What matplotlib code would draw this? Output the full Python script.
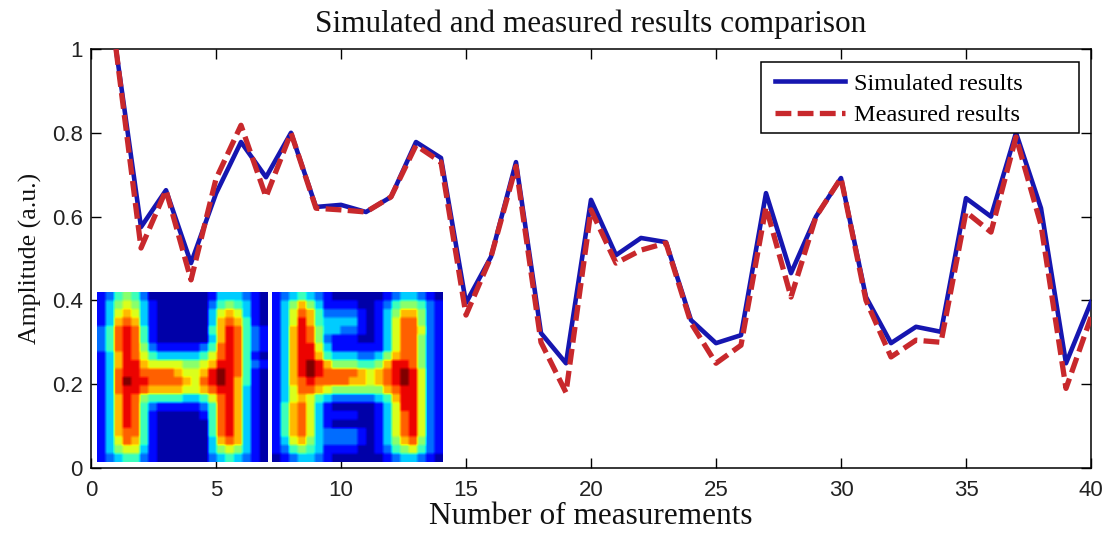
import matplotlib
matplotlib.use("Agg")
import matplotlib.pyplot as plt
import numpy as np
from matplotlib.patches import Rectangle

# Measurement index and amplitudes
measurement_index = list(range(1, 41))
simulated = [1.00, 0.575, 0.663, 0.489, 0.655, 0.778, 0.694, 0.800, 0.623, 0.628,
             0.611, 0.647, 0.778, 0.740, 0.394, 0.504, 0.730, 0.322, 0.250, 0.640,
             0.508, 0.549, 0.539, 0.353, 0.298, 0.317, 0.656, 0.465, 0.600, 0.692,
             0.408, 0.298, 0.337, 0.325, 0.644, 0.600, 0.800, 0.620, 0.250, 0.396]
measured = [1.00, 0.525, 0.663, 0.449, 0.690, 0.818, 0.647, 0.800, 0.620, 0.616,
            0.611, 0.647, 0.770, 0.730, 0.365, 0.504, 0.720, 0.300, 0.180, 0.616,
            0.489, 0.520, 0.537, 0.346, 0.250, 0.293, 0.623, 0.408, 0.600, 0.692,
            0.400, 0.265, 0.305, 0.300, 0.611, 0.563, 0.790, 0.580, 0.190, 0.360]

x_ticks = [0, 5, 10, 15, 20, 25, 30, 35, 40]
y_ticks = [0, 0.2, 0.4, 0.6, 0.8, 1.0]
y_tick_labels = ["0", "0.2", "0.4", "0.6", "0.8", "1"]

# Reconstructed intensity maps (levels 0..10)
image_simulated = [
    [1, 2, 4, 5, 4, 2, 0, 0, 0, 0, 0, 0, 0, 1, 3, 3, 3, 2, 1, 0],
    [1, 3, 5, 6, 5, 3, 1, 0, 0, 0, 0, 0, 0, 2, 4, 5, 4, 3, 1, 0],
    [1, 3, 6, 7, 6, 3, 1, 0, 0, 0, 0, 0, 0, 3, 6, 7, 6, 3, 1, 0],
    [1, 3, 7, 8, 7, 3, 1, 0, 0, 0, 0, 0, 0, 3, 7, 8, 7, 4, 1, 0],
    [2, 4, 8, 9, 8, 4, 1, 0, 0, 0, 0, 0, 0, 4, 7, 9, 8, 4, 2, 1],
    [2, 4, 8, 9, 8, 4, 1, 0, 0, 0, 0, 0, 0, 3, 7, 9, 8, 4, 2, 1],
    [2, 4, 8, 9, 8, 5, 2, 1, 1, 1, 1, 1, 2, 4, 8, 9, 8, 4, 2, 1],
    [1, 3, 7, 9, 8, 6, 4, 3, 3, 3, 3, 3, 4, 6, 8, 9, 8, 4, 1, 0],
    [1, 3, 7, 9, 9, 7, 6, 6, 6, 6, 5, 5, 6, 7, 9, 9, 8, 4, 2, 1],
    [1, 3, 8, 9, 9, 8, 8, 8, 8, 7, 6, 6, 7, 9, 10, 9, 8, 4, 1, 0],
    [1, 3, 8, 10, 9, 9, 8, 8, 8, 8, 7, 6, 8, 9, 10, 9, 7, 4, 1, 0],
    [1, 3, 8, 9, 9, 8, 7, 7, 7, 7, 6, 6, 7, 8, 9, 9, 7, 3, 1, 0],
    [1, 3, 7, 9, 8, 5, 4, 4, 4, 4, 3, 3, 4, 6, 8, 9, 7, 3, 1, 0],
    [1, 3, 7, 9, 8, 4, 2, 1, 1, 1, 1, 1, 2, 4, 8, 9, 7, 3, 1, 0],
    [1, 3, 7, 9, 8, 4, 1, 0, 0, 0, 0, 0, 1, 4, 8, 9, 7, 3, 1, 0],
    [1, 3, 7, 9, 8, 4, 1, 0, 0, 0, 0, 0, 0, 4, 8, 9, 7, 3, 1, 0],
    [1, 3, 7, 8, 8, 4, 1, 0, 0, 0, 0, 0, 0, 4, 8, 9, 7, 3, 1, 0],
    [1, 3, 6, 8, 7, 4, 1, 0, 0, 0, 0, 0, 0, 3, 7, 8, 7, 3, 1, 0],
    [1, 3, 5, 6, 6, 3, 1, 0, 0, 0, 0, 0, 0, 3, 5, 6, 5, 3, 1, 0],
    [1, 2, 3, 4, 4, 2, 1, 0, 0, 0, 0, 0, 0, 2, 3, 4, 3, 2, 1, 0],
]
image_measured = [
    [1, 2, 3, 4, 3, 2, 1, 0, 0, 0, 0, 0, 0, 1, 2, 3, 3, 2, 1, 0],
    [1, 3, 5, 7, 5, 3, 1, 1, 1, 1, 0, 0, 1, 2, 4, 5, 5, 4, 2, 1],
    [1, 3, 6, 8, 7, 4, 2, 2, 2, 2, 1, 0, 1, 3, 5, 7, 7, 5, 2, 1],
    [1, 3, 6, 9, 7, 4, 3, 3, 3, 3, 1, 0, 1, 3, 6, 8, 8, 5, 2, 1],
    [1, 3, 7, 9, 8, 5, 3, 3, 2, 2, 1, 0, 1, 3, 6, 8, 8, 6, 2, 1],
    [1, 3, 7, 9, 8, 5, 2, 1, 1, 1, 0, 0, 1, 3, 6, 8, 8, 5, 2, 1],
    [1, 3, 7, 9, 9, 6, 3, 1, 1, 1, 1, 1, 1, 3, 6, 8, 8, 5, 2, 1],
    [1, 3, 7, 9, 9, 7, 4, 3, 3, 3, 2, 2, 3, 5, 7, 8, 8, 5, 2, 1],
    [1, 3, 7, 9, 10, 9, 7, 5, 5, 5, 4, 4, 5, 7, 9, 9, 8, 5, 2, 1],
    [1, 3, 7, 9, 10, 9, 8, 8, 8, 8, 7, 6, 7, 8, 9, 10, 9, 6, 2, 1],
    [1, 3, 7, 8, 9, 8, 8, 8, 8, 7, 7, 6, 7, 8, 9, 10, 9, 6, 2, 1],
    [1, 3, 6, 8, 8, 7, 6, 5, 5, 5, 5, 5, 5, 7, 8, 9, 9, 6, 2, 1],
    [1, 3, 6, 7, 6, 4, 3, 2, 2, 2, 2, 2, 3, 4, 7, 9, 9, 6, 2, 1],
    [1, 4, 7, 8, 6, 3, 1, 0, 0, 0, 0, 0, 1, 3, 6, 9, 9, 6, 2, 1],
    [1, 4, 7, 8, 6, 3, 1, 1, 1, 1, 0, 0, 1, 3, 6, 8, 9, 6, 2, 1],
    [1, 4, 7, 8, 6, 3, 1, 0, 0, 0, 0, 0, 1, 3, 6, 8, 9, 6, 2, 1],
    [1, 4, 7, 8, 6, 3, 2, 2, 2, 2, 1, 0, 1, 3, 6, 8, 9, 6, 2, 1],
    [1, 3, 6, 7, 5, 3, 2, 2, 2, 2, 1, 0, 1, 3, 5, 7, 8, 5, 2, 1],
    [1, 2, 4, 5, 4, 3, 1, 1, 1, 1, 0, 0, 1, 2, 4, 5, 6, 4, 2, 1],
    [0, 1, 2, 3, 3, 2, 1, 0, 0, 0, 0, 0, 0, 1, 2, 3, 3, 2, 1, 0],
]


def soften(levels, block=8, width=3):
    """Blow each cell up to a block of pixels and box-blur the edges slightly."""
    arr = np.kron(np.asarray(levels, dtype=float), np.ones((block, block)))
    kernel = np.ones(width) / width
    pad = width // 2
    arr = np.pad(arr, pad, mode="edge")
    arr = np.apply_along_axis(lambda r: np.convolve(r, kernel, mode="valid"), 1, arr)
    arr = np.apply_along_axis(lambda c: np.convolve(c, kernel, mode="valid"), 0, arr)
    return arr


serif = ["Liberation Serif", "DejaVu Serif"]
sans = ["Liberation Sans", "DejaVu Sans"]

W, H = 1106, 541
fig = plt.figure(figsize=(W / 100, H / 100), dpi=100)
ax = fig.add_axes([91 / W, (H - 468) / H, 1000 / W, 419 / H])

ax.plot(measurement_index, simulated, color="#1616b0", linewidth=3.3,
        label="Simulated results", zorder=3)
ax.plot(measurement_index, measured, color="#c8282c", linewidth=3.8,
        linestyle=(0, (3.0, 1.2)), label="Measured results", zorder=4)

ax.set_xlim(0, 40)
ax.set_ylim(0, 1)
ax.set_xticks(x_ticks)
ax.set_yticks(y_ticks)
ax.set_yticklabels(y_tick_labels)
ax.tick_params(direction="in", length=7, width=1, top=True, right=True,
               labelsize=16)
ax.tick_params(axis="x", pad=9)
ax.tick_params(axis="y", pad=6)
for lbl in ax.get_xticklabels() + ax.get_yticklabels():
    lbl.set_family(sans)
    lbl.set_color("#222222")
for sp in ax.spines.values():
    sp.set_linewidth(1.1)

ax.set_title("Simulated and measured results comparison", family=serif,
             fontsize=22.5, pad=12, color="#111111")
ax.set_xlabel("Number of measurements", family=serif, fontsize=22.5,
              labelpad=0, color="#111111")
ax.set_ylabel("Amplitude (a.u.)", family=serif, fontsize=18.5,
              labelpad=7, color="#111111")

# Legend entries without their own frame; the box is drawn separately
leg = ax.legend(loc="upper left", bbox_to_anchor=(0.684, 0.943),
                prop={"family": serif, "size": 17.5}, handlelength=2.9,
                handletextpad=0.35, borderpad=0, borderaxespad=0,
                labelspacing=0.38, frameon=False)
ax.add_patch(Rectangle((0.670, 0.7995), 0.318, 0.1695, transform=ax.transAxes,
                       facecolor="white", edgecolor="black", linewidth=1.1,
                       zorder=5))
leg.set_zorder(6)

# Intensity maps shown in the lower-left corner of the plot
for left, img in ((97, image_simulated), (272, image_measured)):
    iax = fig.add_axes([left / W, (H - 462) / H, 171 / W, 170 / H])
    iax.imshow(soften(img), cmap="jet", vmin=-0.4, vmax=10,
               interpolation="bilinear", aspect="auto")
    iax.set_axis_off()

fig.savefig("out.png", dpi=100)
